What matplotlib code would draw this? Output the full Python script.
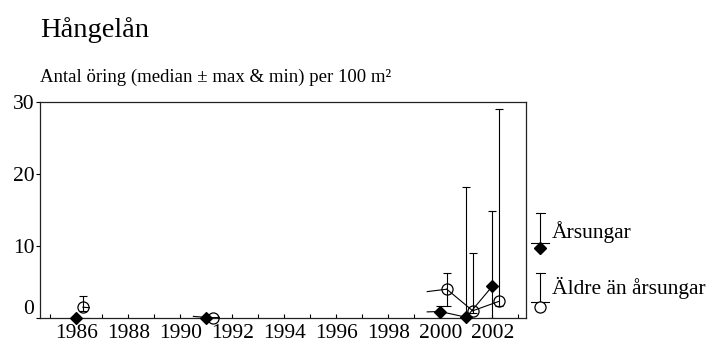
import matplotlib.pyplot as plt
import matplotlib.transforms as mtransforms

plt.rcParams['font.family'] = ['Liberation Serif', 'DejaVu Serif']

# Årsungar (filled diamonds)
years_juv = [1986, 1991, 2000, 2001, 2002]
med_juv = [0, 0, 0.9, 0.1, 4.4]
max_juv = [0, 0, 1.7, 18.2, 14.9]
min_juv = [0, 0, 0, 0, 0]

# Äldre än årsungar (open circles), drawn a bit to the right
years_old = [1986, 1991, 2000, 2001, 2002]
med_old = [1.5, 0, 4.0, 1.0, 2.3]
max_old = [3.1, 0, 6.3, 9.0, 29.0]
min_old = [1.0, 0, 1.7, 0.7, 1.6]
shift_old = 0.25

xticks = list(range(1986, 2003, 2))
yticks = [0, 10, 20, 30]

fig = plt.figure(figsize=(7.07, 3.43), dpi=100)
ax = fig.add_axes([0.0566, 0.0729, 0.6874, 0.6297])


def draw_series(years, med, lo, hi, dx, marker, face, ms):
    xs = [y + dx for y in years]
    # connecting lines: full for consecutive years, stubs across gaps
    for i in range(len(xs) - 1):
        x0, x1 = xs[i], xs[i + 1]
        y0, y1 = med[i], med[i + 1]
        if years[i + 1] - years[i] == 1:
            ax.plot([x0, x1], [y0, y1], color='black', lw=0.8, zorder=2)
        else:
            xa = years[i] + 0.5
            xb = years[i + 1] - 0.5
            ya = y0 + (y1 - y0) * (xa - x0) / (x1 - x0)
            yb = y0 + (y1 - y0) * (xb - x0) / (x1 - x0)
            ax.plot([x0, xa], [y0, ya], color='black', lw=0.8, zorder=2)
            ax.plot([xb, x1], [yb, y1], color='black', lw=0.8, zorder=2)
    err = [[m - l for m, l in zip(med, lo)], [h - m for m, h in zip(med, hi)]]
    ax.errorbar(xs, med, yerr=err, fmt='none', ecolor='black', elinewidth=0.8,
                capsize=3.2, capthick=0.8, zorder=2)
    ax.plot(xs, med, linestyle='none', marker=marker, markersize=ms,
            markerfacecolor=face, markeredgecolor='black', markeredgewidth=0.9,
            zorder=3, clip_on=False)


draw_series(years_juv, med_juv, min_juv, max_juv, 0, 'D', 'black', 6.3)
draw_series(years_old, med_old, min_old, max_old, shift_old, 'o', 'none', 8)

ax.set_xlim(1984.6, 2003.3)
ax.set_ylim(0, 30)
ax.set_xticks(range(1985, 2004), minor=True)
ax.set_xticks(xticks)
ax.set_xticklabels([str(t) for t in xticks])
ax.set_yticks(yticks)
ax.set_yticklabels([str(t) for t in yticks])
ax.tick_params(axis='x', which='both', direction='in', length=3, width=0.8,
               labelsize=15.5, pad=4)
ax.tick_params(axis='y', direction='out', length=3, width=0.8, labelsize=15.5, pad=1)
# the 0 label sits a little above its tick
lab0 = ax.get_yticklabels()[0]
lab0.set_transform(lab0.get_transform() +
                   mtransforms.ScaledTranslation(0, 0.11, fig.dpi_scale_trans))
for s in ax.spines.values():
    s.set_linewidth(0.9)
    s.set_color('#222222')

# legend drawn beside the axes
kw = dict(color='black', lw=0.8, clip_on=False)
lx = 2003.85
ax.plot([lx, lx], [10.4, 14.6], **kw)
ax.plot([lx - 0.17, lx + 0.17], [14.6, 14.6], **kw)
ax.plot([lx - 0.35, lx + 0.35], [10.4, 10.4], **kw)
ax.plot([lx], [9.7], marker='D', markersize=6.3, color='black', clip_on=False)
ax.text(lx + 0.45, 12.0, 'Årsungar', fontsize=15.5, va='center', ha='left')
ax.plot([lx, lx], [2.2, 6.2], **kw)
ax.plot([lx - 0.17, lx + 0.17], [6.2, 6.2], **kw)
ax.plot([lx - 0.35, lx + 0.35], [2.2, 2.2], **kw)
ax.plot([lx], [1.5], marker='o', markersize=8, markerfacecolor='white',
        markeredgecolor='black', markeredgewidth=0.9, clip_on=False)
ax.text(lx + 0.45, 4.2, 'Äldre än årsungar', fontsize=15.5, va='center', ha='left')

fig.text(40 / 707, 1 - 30 / 343, 'Hångelån', fontsize=20.5, ha='left', va='center')
fig.text(40 / 707, 1 - 77 / 343, 'Antal öring (median ± max & min) per 100 m²',
         fontsize=13.5, ha='left', va='center')

fig.savefig('out.png', dpi=100)
